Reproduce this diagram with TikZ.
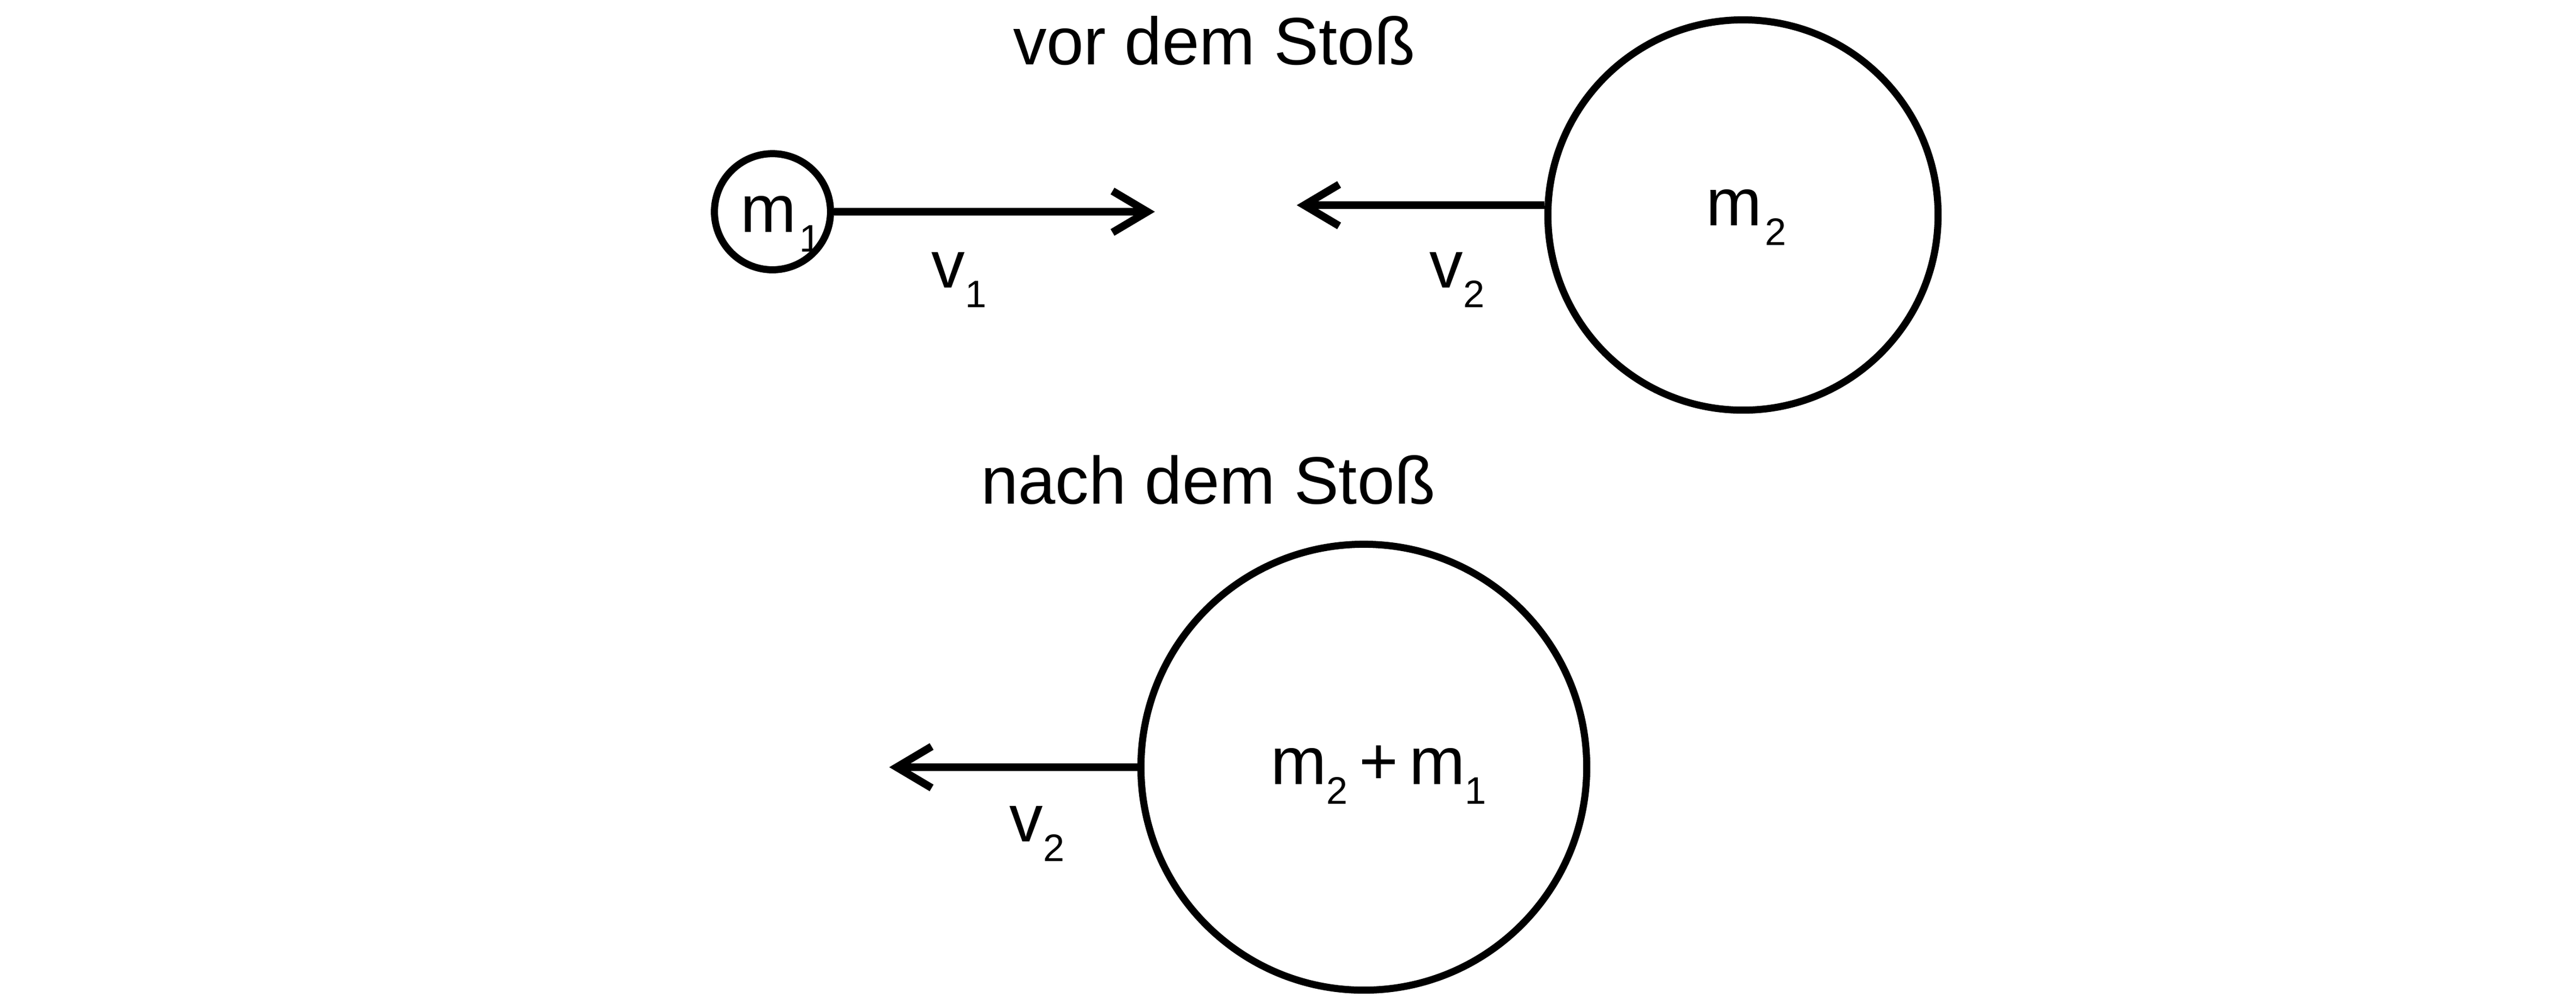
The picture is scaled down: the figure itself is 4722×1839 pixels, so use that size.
\documentclass[tikz,border=0pt]{standalone}
\usepackage{fontspec}
\setmainfont{Liberation Sans}
\usetikzlibrary{arrows.meta}

\newcommand{\idx}[1]{\raisebox{-0.3em}{\fontsize{10}{10}\selectfont #1}}

\begin{document}
\begin{tikzpicture}[
    x=0.005cm, y=-0.005cm,
    ball/.style={circle, draw, line width=1.85pt, inner sep=0pt},
    titlelabel/.style={font=\fontsize{17.5}{21}\selectfont, inner sep=0pt, anchor=base},
    masslabel/.style={font=\fontsize{17.5}{21}\selectfont, inner sep=0pt, anchor=base},
    speedlabel/.style={font=\fontsize{17.5}{21}\selectfont, inner sep=0pt, anchor=base},
    arrow/.style={-{Straight Barb[length=0.32cm, width=0.38cm]}, line width=2pt}
]
\useasboundingbox (0,0) rectangle (4722,1839);

% ============ VOR DEM STOSS ============
\node[titlelabel] (title1) at (2226,118) {vor dem Stoß};

\node[ball, minimum size=1.065cm] (mone) at (1416,388) {};
\node[masslabel] (monelabel) at (1431,425) {m\kern0.05em\idx{1}};
\coordinate (vonetip) at (2117,388);
\draw[arrow] (mone.east) -- (vonetip);
\node[speedlabel] (vonelabel) at (1758,527) {v\idx{1}};

\node[ball, minimum size=3.58cm] (mtwo) at (3195,394) {};
\node[masslabel] (mtwolabel) at (3201,413) {m\kern0.05em\idx{2}};
\coordinate (vtwotip) at (2377,376);
\draw[arrow] (mtwo.west |- vtwotip) -- (vtwotip);
\node[speedlabel] (vtwolabel) at (2671,527) {v\idx{2}};

% ============ NACH DEM STOSS ============
\node[titlelabel] (title2) at (2215,923) {nach dem Stoß};

\node[ball, minimum size=4.09cm] (mboth) at (2500,1406) {};
\node[masslabel] (mbothlabel) at (2527,1437) {m\idx{2}\,+\,m\idx{1}};
\coordinate (vbothtip) at (1630,1406);
\draw[arrow] (mboth.west) -- (vbothtip);
\node[speedlabel] (vbothlabel) at (1901,1542) {v\idx{2}};

\end{tikzpicture}
\end{document}
